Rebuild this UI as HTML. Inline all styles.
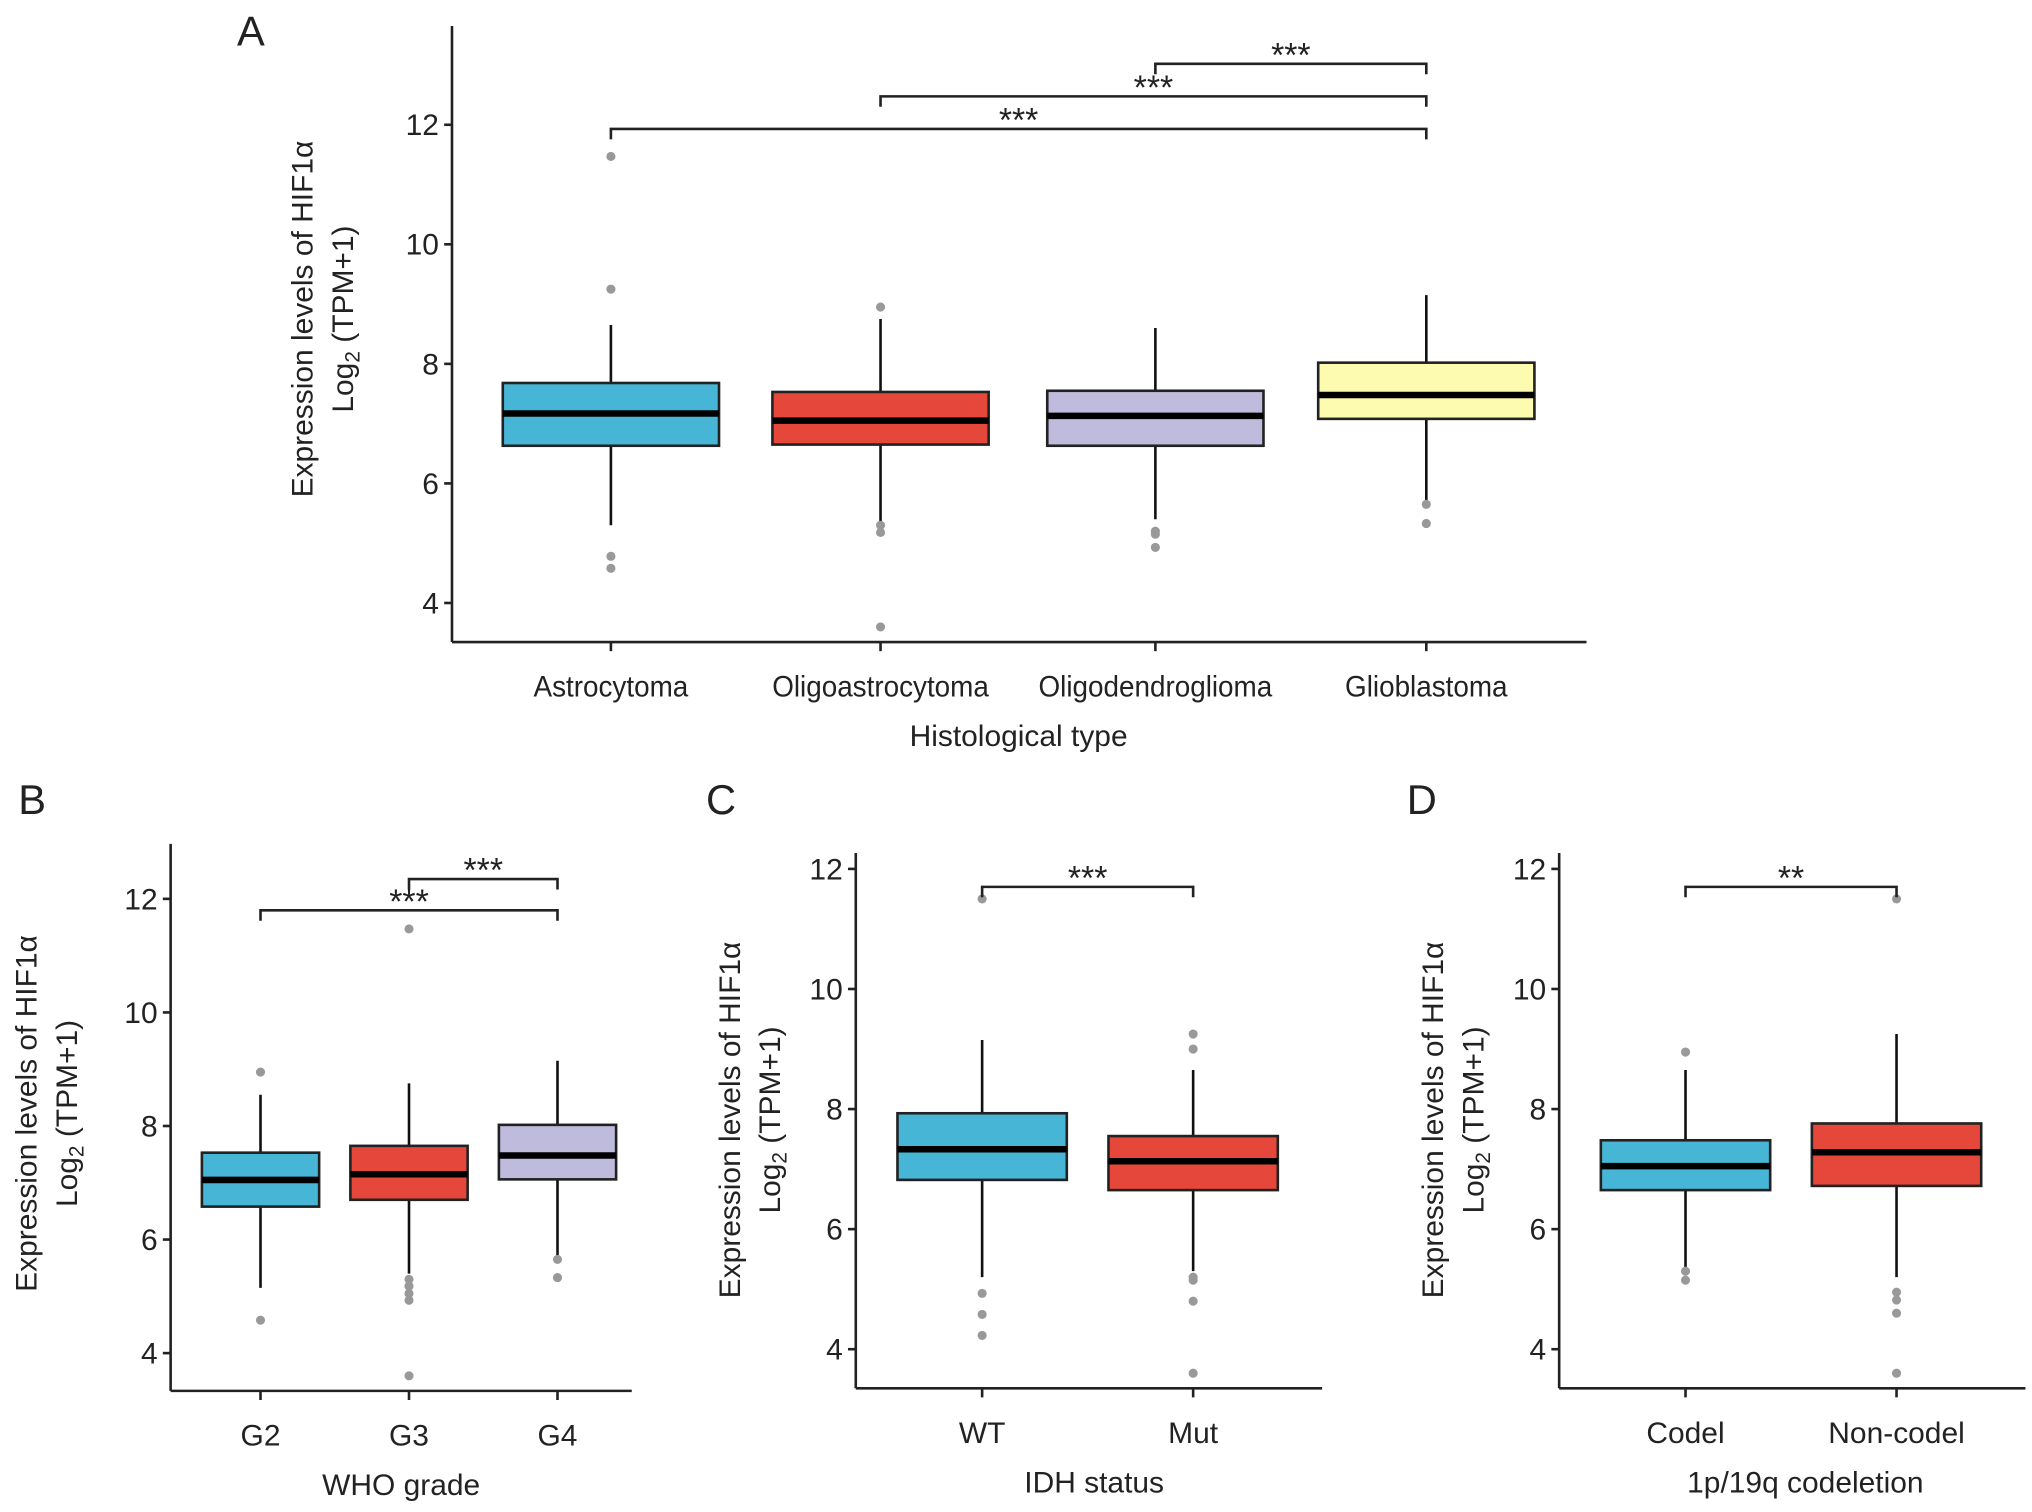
<!DOCTYPE html>
<html><head><meta charset="utf-8"><style>
html,body{margin:0;padding:0;background:#fff}
svg{display:block}
text{font-family:"Liberation Sans",Arial,sans-serif;fill:#222}
</style></head><body>
<svg id="fig" xmlns="http://www.w3.org/2000/svg" width="2032" height="1512" viewBox="0 0 1560 1161" preserveAspectRatio="none"></svg>
<script>
// Panel A
const catsA=["Astrocytoma","Oligoastrocytoma","Oligodendroglioma","Glioblastoma"];
const q1A=[6.63,6.65,6.63,7.08], medA=[7.17,7.05,7.13,7.48], q3A=[7.68,7.53,7.55,8.02];
const loA=[5.3,5.35,5.4,5.7], hiA=[8.65,8.75,8.6,9.15];
const outA=[[11.47,9.25,4.78,4.58],[8.95,5.3,5.18,3.6],[5.2,5.15,4.93],[5.65,5.33]];
// Panel B
const catsB=["G2","G3","G4"];
const q1B=[6.58,6.7,7.06], medB=[7.05,7.15,7.48], q3B=[7.53,7.65,8.02];
const loB=[5.15,5.4,5.7], hiB=[8.55,8.75,9.15];
const outB=[[8.95,4.58],[11.47,5.3,5.18,5.05,4.93,3.6],[5.65,5.33]];
// Panel C
const catsC=["WT","Mut"];
const q1C=[6.82,6.65], medC=[7.33,7.13], q3C=[7.93,7.55];
const loC=[5.2,5.3], hiC=[9.15,8.65];
const outC=[[11.5,4.93,4.58,4.23],[9.25,9.0,5.2,5.15,4.8,3.6]];
// Panel D
const catsD=["Codel","Non-codel"];
const q1D=[6.65,6.72], medD=[7.05,7.28], q3D=[7.48,7.76];
const loD=[5.35,5.2], hiD=[8.65,9.25];
const outD=[[8.95,5.3,5.15],[11.5,4.95,4.82,4.6,3.6]];
const yTicks=[4,6,8,10,12];

const NS="http://www.w3.org/2000/svg", svg=document.getElementById('fig');
function mk(tag,at,parent){const e=document.createElementNS(NS,tag);for(const k in at)e.setAttribute(k,at[k]);(parent||svg).appendChild(e);return e;}

function panel(o){
  const g=mk('g',{});
  
  
  const y=v=>o.y4-(v-4)*o.ppu;
  const x=i=>o.cx[i];
  const ya=mk('line',{x1:o.ax,y1:o.top,x2:o.ax,y2:o.base,stroke:'#222','stroke-width':2},g);
  
  const xa=mk('line',{x1:o.ax,y1:o.base,x2:o.right,y2:o.base,stroke:'#222','stroke-width':2},g);
  
  yTicks.forEach(t=>{
    mk('line',{x1:o.ax-6,y1:y(t),x2:o.ax,y2:y(t),stroke:'#222','stroke-width':2},g);
    const tx=mk('text',{x:o.ax-10,y:y(t)+8,'text-anchor':'end','font-size':23},g);
    tx.textContent=t;
    
  });
  o.cats.forEach((c,i)=>{
    mk('line',{x1:x(i),y1:o.base,x2:x(i),y2:o.base+7,stroke:'#222','stroke-width':2},g);
    const tx=mk('text',{x:x(i),y:o.base+42,'text-anchor':'middle','font-size':23,transform:o.squeeze?`translate(${x(i)*(1-o.squeeze)},0) scale(${o.squeeze},1)`:''},g);
    tx.textContent=c;
    
    const w=mk('line',{x1:x(i),y1:y(o.lo[i]),x2:x(i),y2:y(o.hi[i]),stroke:'#111','stroke-width':2},g);
    
    const b=mk('rect',{x:x(i)-o.hw,y:y(o.q3[i]),width:2*o.hw,height:y(o.q1[i])-y(o.q3[i]),fill:o.col[i],stroke:'#222','stroke-width':2},g);
    
    const m=mk('line',{x1:x(i)-o.hw,y1:y(o.med[i]),x2:x(i)+o.hw,y2:y(o.med[i]),stroke:'#000','stroke-width':5},g);
    
    o.out[i].forEach(v=>{
      const p=mk('circle',{cx:x(i),cy:y(v),r:3.5,fill:'#999'},g);
      
    });
  });
  o.br.forEach(b=>{
    const x1=x(b[0]),x2=x(b[1]);
    const p=mk('path',{d:`M${x1},${b[2]+8}V${b[2]}H${x2}V${b[2]+8}`,fill:'none',stroke:'#222','stroke-width':2},g);
    
    const t=mk('text',{x:(x1+x2)/2,y:b[2]+2,'text-anchor':'middle','font-size':26},g);
    t.textContent=b[3];
    
  });
  const xt=mk('text',{x:o.xtx,y:o.base+80,'text-anchor':'middle','font-size':23},g);
  xt.textContent=o.xtitle;
  
  const yt=mk('text',{transform:`translate(${o.ytx},${o.yty}) rotate(-90)`,'text-anchor':'middle','font-size':23},g);
  
  const s1=mk('tspan',{x:0,y:0},yt);s1.textContent='Expression levels of HIF1α';
  const s2=mk('tspan',{x:0,y:31},yt);s2.textContent='Log';
  const s3=mk('tspan',{'font-size':16,dy:5},yt);s3.textContent='2';
  const s4=mk('tspan',{dy:-5},yt);s4.textContent=' (TPM+1)';
  const L=mk('text',{x:o.lx,y:o.ly,'font-size':32},g);
  L.textContent=o.letter;
  
}
const C4=['#47b6d6','#e5483a','#bfbbdc','#fdfbb0'];
panel({name:'panel-a',letter:'A',lx:182,ly:35,cats:catsA,q1:q1A,med:medA,q3:q3A,lo:loA,hi:hiA,out:outA,col:C4,squeeze:0.93,
  ax:347,top:20,base:493,right:1218,y4:463,ppu:45.9,cx:[469,676,887,1095],hw:83,
  br:[[0,3,99,'***'],[1,3,74,'***'],[2,3,49,'***']],xtitle:'Histological type',xtx:782,ytx:240,yty:245});
panel({name:'panel-b',letter:'B',lx:14,ly:625,cats:catsB,q1:q1B,med:medB,q3:q3B,lo:loB,hi:hiB,out:outB,col:C4,
  ax:131,top:648,base:1068,right:485,y4:1039,ppu:43.6,cx:[200,314,428],hw:45,
  br:[[0,2,699,'***'],[1,2,675,'***']],xtitle:'WHO grade',xtx:308,ytx:28,yty:855});
panel({name:'panel-c',letter:'C',lx:542,ly:625,cats:catsC,q1:q1C,med:medC,q3:q3C,lo:loC,hi:hiC,out:outC,col:C4,
  ax:657,top:655,base:1066,right:1015,y4:1036,ppu:46.1,cx:[754,916],hw:65,
  br:[[0,1,681,'***']],xtitle:'IDH status',xtx:840,ytx:568,yty:860});
panel({name:'panel-d',letter:'D',lx:1080,ly:625,cats:catsD,q1:q1D,med:medD,q3:q3D,lo:loD,hi:hiD,out:outD,col:C4,
  ax:1197,top:655,base:1066,right:1555,y4:1036,ppu:46.1,cx:[1294,1456],hw:65,
  br:[[0,1,681,'**']],xtitle:'1p/19q codeletion',xtx:1386,ytx:1108,yty:860});
</script>
</body></html>
